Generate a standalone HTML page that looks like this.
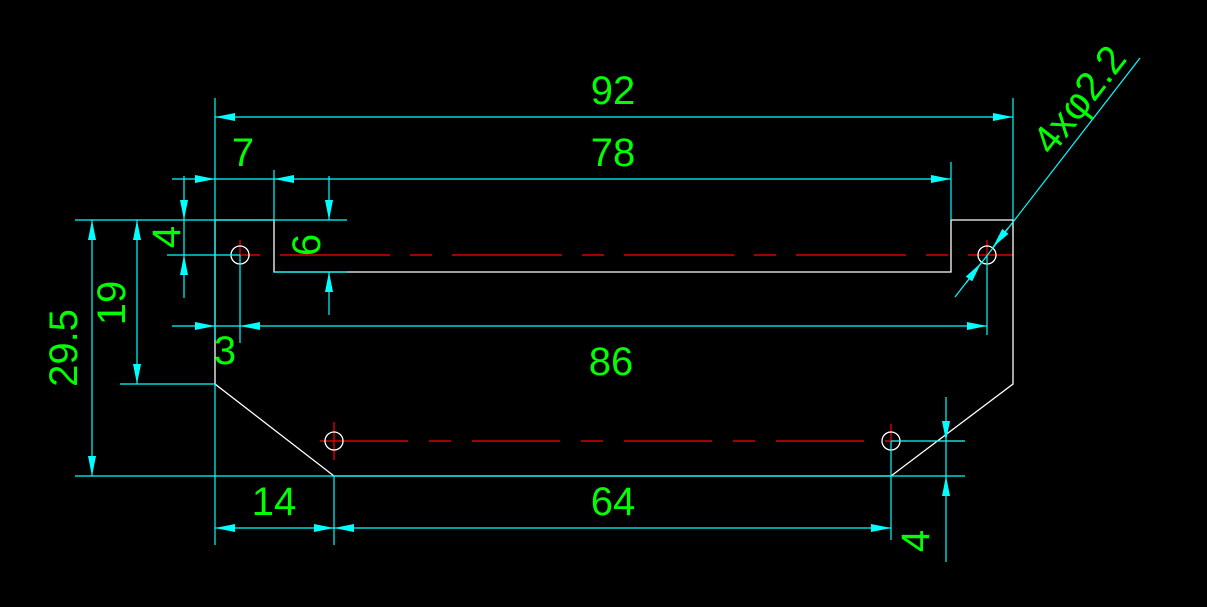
<!DOCTYPE html>
<html><head><meta charset="utf-8"><style>html,body{margin:0;padding:0;background:#000;}svg{display:block}</style></head>
<body>
<svg width="1207" height="607" viewBox="0 0 1207 607" xmlns="http://www.w3.org/2000/svg">
<rect width="1207" height="607" fill="#000"/>
<defs>
<marker id="a" viewBox="0 0 20 8" refX="20" refY="4" markerWidth="20" markerHeight="8" markerUnits="userSpaceOnUse" orient="auto-start-reverse"><path d="M0,0 L20,4 L0,8 Z" fill="#00ffff"/></marker>
</defs>
<!-- red center lines -->
<g stroke="#ff0000" stroke-width="1.2" fill="none">
<line x1="240" y1="240" x2="240" y2="255"/>
<line x1="240" y1="255" x2="1013" y2="255" stroke-dasharray="110,20,22,20" stroke-dashoffset="-40"/>
<line x1="320" y1="441" x2="965" y2="441" stroke-dasharray="88,21,22,21"/>
<line x1="334" y1="422" x2="334" y2="460"/>
<line x1="891" y1="424" x2="891" y2="441"/>
<line x1="987" y1="240" x2="987" y2="255"/>
</g>
<!-- white outline -->
<g stroke="#ffffff" stroke-width="1.3" fill="none">
<polyline points="215,220 274,220 274,272 951,272 951,220 1013,220 1013,384 891,476 334,476 215,384 215,220"/>
<circle cx="240" cy="255" r="9"/>
<circle cx="987" cy="255" r="9"/>
<circle cx="334" cy="441" r="9"/>
<circle cx="891" cy="441" r="9"/>
</g>
<!-- cyan dims -->
<g stroke="#00ffff" stroke-width="1.2" fill="none">
<line x1="215" y1="98" x2="215" y2="340"/>
<line x1="215" y1="384" x2="215" y2="545"/>
<line x1="1013" y1="98" x2="1013" y2="220"/>
<line x1="215" y1="117" x2="1013" y2="117" marker-start="url(#a)" marker-end="url(#a)"/>
<line x1="274" y1="170" x2="274" y2="220"/>
<line x1="951" y1="162" x2="951" y2="220"/>
<line x1="274" y1="179" x2="951" y2="179" marker-start="url(#a)" marker-end="url(#a)"/>
<line x1="172" y1="179" x2="215" y2="179" marker-end="url(#a)"/>
<line x1="215" y1="179" x2="274" y2="179"/>
<line x1="75" y1="220" x2="347" y2="220"/>
<line x1="167" y1="255" x2="240" y2="255"/>
<line x1="184" y1="176" x2="184" y2="220" marker-end="url(#a)"/>
<line x1="184" y1="298" x2="184" y2="255" marker-end="url(#a)"/>
<line x1="184" y1="220" x2="184" y2="255"/>
<line x1="240" y1="255" x2="240" y2="343"/>
<line x1="329" y1="176" x2="329" y2="220" marker-end="url(#a)"/>
<line x1="329" y1="315" x2="329" y2="272" marker-end="url(#a)"/>
<line x1="274" y1="272" x2="347" y2="272"/>
<line x1="137" y1="220" x2="137" y2="384" marker-start="url(#a)" marker-end="url(#a)"/>
<line x1="120" y1="384" x2="215" y2="384"/>
<line x1="92" y1="220" x2="92" y2="476" marker-start="url(#a)" marker-end="url(#a)"/>
<line x1="75" y1="476" x2="965" y2="476"/>
<line x1="172" y1="326" x2="215" y2="326" marker-end="url(#a)"/>
<line x1="240" y1="326" x2="987" y2="326" marker-start="url(#a)" marker-end="url(#a)"/>
<line x1="215" y1="326" x2="240" y2="326"/>
<line x1="987" y1="255" x2="987" y2="335"/>
<line x1="334" y1="476" x2="334" y2="545"/>
<line x1="891" y1="441" x2="891" y2="540"/>
<line x1="215" y1="528" x2="334" y2="528" marker-start="url(#a)" marker-end="url(#a)"/>
<line x1="334" y1="528" x2="891" y2="528" marker-start="url(#a)" marker-end="url(#a)"/>
<line x1="891" y1="441" x2="965" y2="441"/>
<line x1="946" y1="397" x2="946" y2="441" marker-end="url(#a)"/>
<line x1="946" y1="562" x2="946" y2="476" marker-end="url(#a)"/>
<line x1="946" y1="441" x2="946" y2="476"/>
<line x1="955" y1="297" x2="1140" y2="58"/>
<line x1="1008" y1="228" x2="993" y2="247" marker-end="url(#a)"/>
<line x1="966" y1="283" x2="981" y2="263" marker-end="url(#a)"/>
</g>
<!-- text -->
<g fill="#00ff00" font-family="Liberation Sans, sans-serif" font-size="40">
<text x="613" y="104" text-anchor="middle">92</text>
<text x="613" y="166" text-anchor="middle">78</text>
<text x="243" y="166" text-anchor="middle">7</text>
<text x="225" y="364" text-anchor="middle">3</text>
<text x="611" y="375" text-anchor="middle">86</text>
<text x="274" y="515" text-anchor="middle">14</text>
<text x="613" y="515" text-anchor="middle">64</text>
<text transform="translate(180,237) rotate(-90)" text-anchor="middle">4</text>
<text transform="translate(320,245) rotate(-90)" text-anchor="middle">6</text>
<text transform="translate(125,303) rotate(-90)" text-anchor="middle">19</text>
<text transform="translate(77,348) rotate(-90)" text-anchor="middle">29.5</text>
<text transform="translate(929,541) rotate(-90)" text-anchor="middle">4</text>
<text transform="translate(1090,108) rotate(-52)" text-anchor="middle">4xφ2.2</text>
</g>
</svg>
</body></html>
